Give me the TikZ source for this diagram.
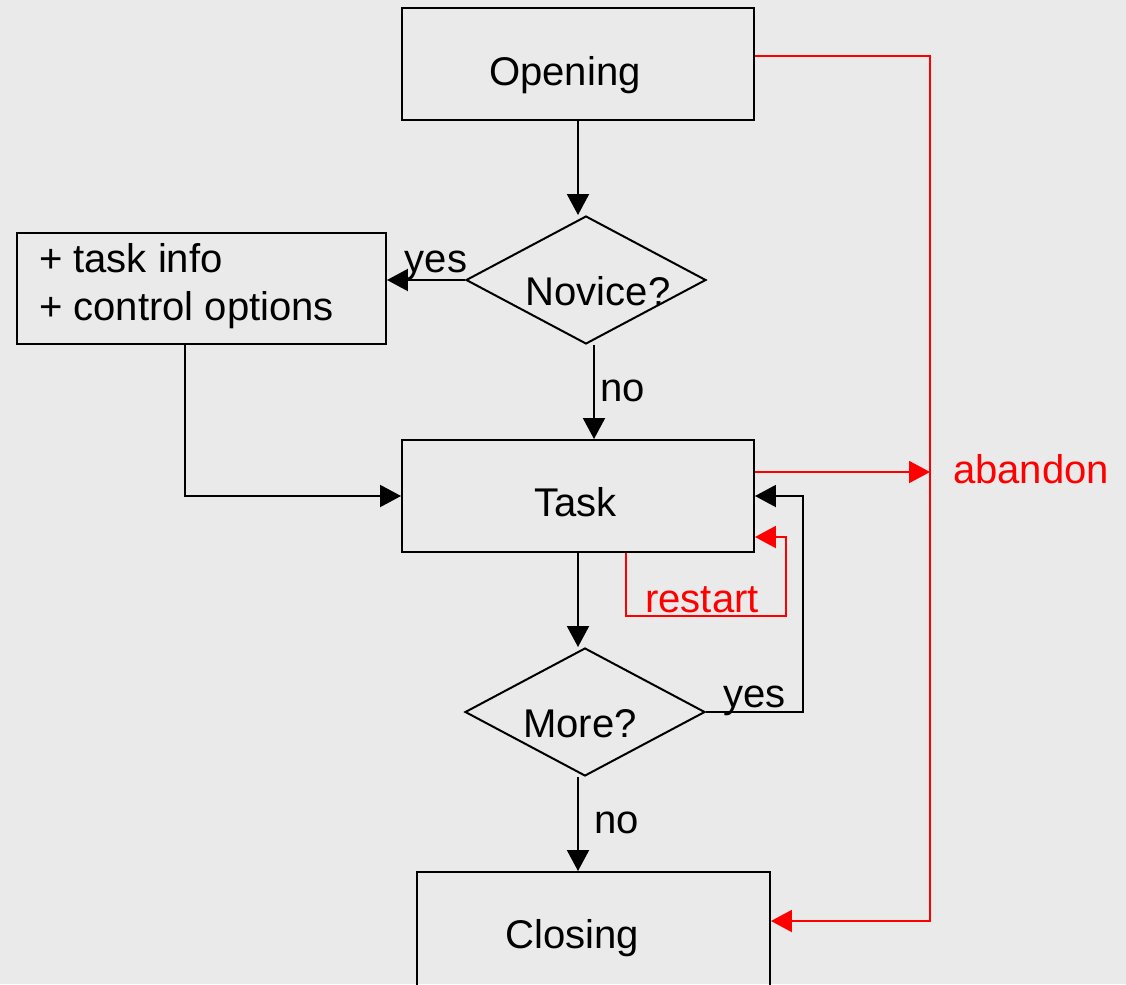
\documentclass[tikz,border=0pt]{standalone}
\usepackage{fontspec}
\setmainfont{Liberation Sans}
\usetikzlibrary{arrows.meta,shapes.geometric}

\definecolor{bggray}{HTML}{EAEAEA}

\tikzset{
  box/.style={draw,rectangle,minimum width=7.04cm,minimum height=2.24cm,inner sep=0pt},
  decision/.style={draw,diamond,minimum width=4.8cm,minimum height=2.56cm,inner sep=0pt},
  txt/.style={anchor=base,inner sep=0pt},
}

\begin{document}
\begin{tikzpicture}[x=0.02cm,y=-0.02cm,>={Triangle[length=0.42cm,width=0.44cm]},
  line width=1.14pt,font=\fontsize{22.8}{27.4}\selectfont]
\fill[bggray] (0,0) rectangle (1126,984);
\useasboundingbox (0,0) rectangle (1126,984);

% boxes and decisions
\node[box] (opening) at (578,64) {};
\node[box,minimum width=7.38cm,minimum height=2.22cm] (info) at (201.5,288.5) {};
\node[box] (task) at (578,496) {};
\node[box,minimum width=7.06cm,minimum height=2.28cm] (closing) at (593.5,929) {};
\node[decision] (novice) at (586,280) {};
\node[decision] (more) at (585,712) {};

\node[txt] (openingtxt) at (565,85) {Opening};
\node[txt,anchor=base west] (infoa) at (38,272) {+ task info};
\node[txt,anchor=base west] (infob) at (38,320) {+ control options};
\node[txt] (novicetxt) at (598,305) {Novice?};
\node[txt] (tasktxt) at (575.5,516) {Task};
\node[txt] (moretxt) at (580,737) {More?};
\node[txt] (closingtxt) at (572,948) {Closing};

% flow
\draw[->] (opening.south) -- (opening.south |- novice.north);
\draw[->] (novice.west) -- (novice.west -| info.east)
  node[txt] (yesa) at (436,272) {yes};
\draw[->] ([xshift=0.16cm]novice.south) -- ([xshift=0.16cm]novice.south |- task.north)
  node[txt,anchor=base west] (noa) at (599,401) {no};
\draw[->] ([xshift=-0.33cm]info.south) |- (task.west);
\draw[->] (task.south) -- (task.south |- more.north);
\draw[->] (more.east) -| ([xshift=0.96cm]task.east) -- (task.east)
  node[txt,anchor=base west] (yesb) at (722,707) {yes};
\draw[->] (task.south |- more.south) -- (task.south |- closing.north)
  node[txt,anchor=base west] (nob) at (593,833) {no};

% abandon and restart
\coordinate (railtop) at (930,56);
\coordinate (railmid) at (930,472);
\coordinate (railbot) at (930,921);
\draw[red,->] (opening.east |- railtop) -- (railtop) -- (railbot) -- (closing.east |- railbot);
\draw[red,->] (task.east |- railmid) -- (railmid);
\node[txt,anchor=base west,red] (abandon) at (952,483) {abandon};

\coordinate (restartbot) at (626,616);
\coordinate (restarttop) at (786,537);
\draw[red,->] (task.south -| restartbot) |- (restarttop |- restartbot) -- (restarttop)
  -- (task.east |- restarttop);
\node[txt,red] (restart) at (702,612) {restart};

\end{tikzpicture}
\end{document}
